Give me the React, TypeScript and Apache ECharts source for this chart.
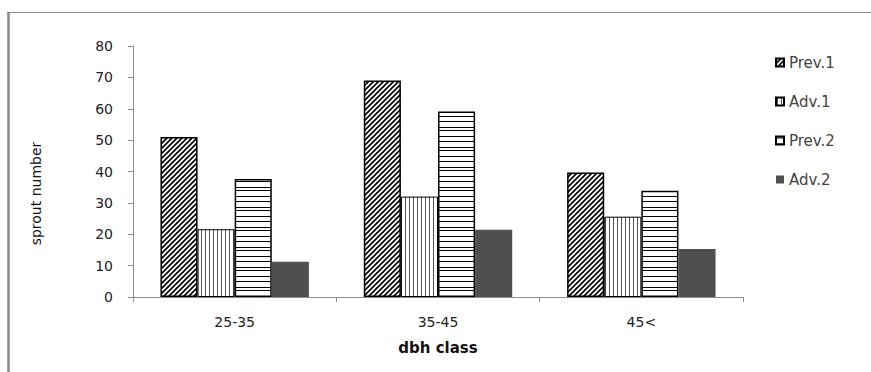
import React, { useEffect, useRef } from "react";
import * as echarts from "echarts";

const categories = ["25-35", "35-45", "45<"];
const seriesNames = ["Prev.1", "Adv.1", "Prev.2", "Adv.2"];
const prev1 = [51, 69, 39.7];
const adv1 = [21.6, 32, 25.6];
const prev2 = [37.6, 59.1, 33.9];
const adv2 = [11.2, 21.4, 15.3];
const yTicks = { min: 0, max: 80, interval: 10 };

function svgTile(w: number, h: number, body: string) {
  const svg = `<svg xmlns='http://www.w3.org/2000/svg' width='${w}' height='${h}'><rect width='${w}' height='${h}' fill='white'/>${body}</svg>`;
  return {
    type: "pattern",
    image: "data:image/svg+xml;charset=utf-8," + encodeURIComponent(svg),
    repeat: "repeat",
    imageWidth: w,
    imageHeight: h,
  };
}

// hatch fills for the bars
const diagonalFill = () =>
  svgTile(5, 5, "<path d='M-1,1 L1,-1 M0,5 L5,0 M4,6 L6,4' stroke='black' stroke-width='1.7'/>");
const verticalFill = () =>
  svgTile(4, 4, "<path d='M1.5,0 L1.5,4' stroke='#555' stroke-width='1'/>");
const horizontalFill = () =>
  svgTile(
    4,
    20,
    "<path d='M0,1.5 L4,1.5 M0,7.5 L4,7.5 M0,10.5 L4,10.5 M0,16.5 L4,16.5' stroke='black' stroke-width='1'/>"
  );

export default function App() {
  const ref = useRef<HTMLDivElement>(null);

  useEffect(() => {
    if (!ref.current) return;
    const chart = echarts.init(ref.current, undefined, { renderer: "svg" });
    const labelFont = "DejaVu Sans, Verdana, sans-serif";
    const barBase = { type: "bar", barGap: "0%", barCategoryGap: "27%" };
    chart.setOption({
      animation: false,
      backgroundColor: "#ffffff",
      grid: { left: 133, right: 128, top: 46, bottom: 75 },
      legend: {
        orient: "vertical",
        left: 775,
        top: 55,
        padding: 0,
        itemWidth: 8,
        itemHeight: 8,
        itemGap: 24,
        itemTextGap: 4,
        icon: "rect",
        textStyle: { fontFamily: labelFont, fontSize: 15, color: "#444" },
        data: seriesNames,
      },
      xAxis: {
        type: "category",
        data: categories,
        name: "dbh class",
        nameLocation: "middle",
        nameGap: 43,
        nameTextStyle: { fontFamily: labelFont, fontWeight: "bold", fontSize: 15, color: "#111" },
        axisLine: { lineStyle: { color: "#8c8c8c", width: 1 } },
        axisTick: { show: true, length: 5, alignWithLabel: false, lineStyle: { color: "#8c8c8c" } },
        axisLabel: { fontFamily: labelFont, fontSize: 14, color: "#222", margin: 18 },
        splitLine: { show: false },
      },
      yAxis: {
        type: "value",
        min: yTicks.min,
        max: yTicks.max,
        interval: yTicks.interval,
        name: "sprout number",
        nameLocation: "middle",
        nameGap: 90,
        nameRotate: 90,
        nameTextStyle: { fontFamily: labelFont, fontSize: 14, color: "#111", padding: [0, 44, 0, 0] },
        axisLine: { show: true, lineStyle: { color: "#8c8c8c", width: 1 } },
        axisTick: { show: true, length: 5, lineStyle: { color: "#8c8c8c" } },
        axisLabel: { fontFamily: labelFont, fontSize: 14, color: "#222", margin: 20 },
        splitLine: { show: false },
      },
      series: [
        {
          ...barBase,
          name: seriesNames[0],
          data: prev1,
          itemStyle: { color: diagonalFill(), borderColor: "#000", borderWidth: 1.5 },
        },
        {
          ...barBase,
          name: seriesNames[1],
          data: adv1,
          itemStyle: { color: verticalFill(), borderColor: "#000", borderWidth: 1 },
        },
        {
          ...barBase,
          name: seriesNames[2],
          data: prev2,
          itemStyle: { color: horizontalFill(), borderColor: "#000", borderWidth: 1.5 },
        },
        {
          ...barBase,
          name: seriesNames[3],
          data: adv2,
          itemStyle: { color: "#4f4f4f" },
        },
      ],
      graphic: [
        {
          type: "line",
          shape: { x1: 7, y1: 12.5, x2: 871, y2: 12.5 },
          style: { stroke: "#8a8a8a", lineWidth: 1 },
          silent: true,
        },
        {
          type: "line",
          shape: { x1: 8.5, y1: 12, x2: 8.5, y2: 372 },
          style: { stroke: "#8a8a8a", lineWidth: 2.5 },
          silent: true,
        },
      ],
    });
    return () => chart.dispose();
  }, []);

  return (
    <div
      ref={ref}
      style={{ position: "absolute", left: 0, top: 0, width: 871, height: 372 }}
    />
  );
}
